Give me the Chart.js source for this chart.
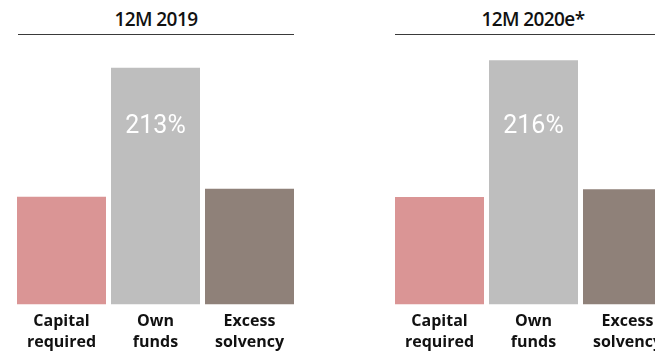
<!DOCTYPE html>
<html>
<head>
<meta charset="utf-8">
<script src="https://cdn.jsdelivr.net/npm/chart.js@4/dist/chart.umd.min.js"></script>
<style>
  html, body { margin: 0; padding: 0; background: #fff; overflow: hidden; }
  body { width: 655px; height: 352px; position: relative; }
  .title {
    position: absolute; top: 6px; width: 276px; height: 28px;
    border-bottom: 1px solid #3a3a3a;
    font-family: "Open Sans", sans-serif; font-weight: 600; font-size: 19px;
    letter-spacing: -0.6px; color: #111; text-align: center; line-height: 26px;
  }
  canvas { position: absolute; top: 40px; }
</style>
</head>
<body>
<div class="title" style="left:18px">12M 2019</div>
<div class="title" style="left:395px">12M 2020e*</div>
<canvas id="c2019" width="330" height="320" style="left:0"></canvas>
<canvas id="c2020" width="360" height="320" style="left:330px"></canvas>
<script>
// Solvency position: capital required vs. own funds and the excess between them
const categories = [["Capital", "required"], ["Own", "funds"], ["Excess", "solvency"]];
const values2019 = [97, 213, 104];
const values2020 = [95, 216, 102];
const ratioLabels = ["213%", "216%"];
const barColors = ["#da9595", "#bebebe", "#8f8179"];

// Writes the solvency ratio inside the "Own funds" bar
const ratioLabelPlugin = {
  id: "ratioLabel",
  afterDatasetsDraw(chart, args, opts) {
    const bar = chart.getDatasetMeta(0).data[1];
    const ctx = chart.ctx;
    ctx.save();
    ctx.fillStyle = "#ffffff";
    ctx.font = "400 25px Roboto, sans-serif";
    ctx.textAlign = "center";
    ctx.textBaseline = "middle";
    ctx.fillText(opts.text, bar.x, chart.chartArea.top + 87);
    ctx.restore();
  }
};

function makeChart(id, values, ratio, yMax, padLeft, padRight) {
  return new Chart(document.getElementById(id), {
    type: "bar",
    data: {
      labels: categories,
      datasets: [{
        data: values,
        backgroundColor: barColors,
        borderWidth: 0,
        barPercentage: 89 / 94,
        categoryPercentage: 1
      }]
    },
    options: {
      responsive: false,
      animation: false,
      devicePixelRatio: 1,
      layout: { padding: { left: padLeft, right: padRight, top: 0, bottom: 0 } },
      plugins: {
        legend: { display: false },
        tooltip: { enabled: false },
        ratioLabel: { text: ratio }
      },
      scales: {
        x: {
          grid: { display: false, drawTicks: false },
          border: { display: false },
          ticks: {
            color: "#111111",
            padding: 7,
            font: { family: "'Open Sans', sans-serif", size: 16, weight: "700", lineHeight: 1.3 }
          }
        },
        y: { display: false, min: 0, max: yMax }
      }
    },
    plugins: [ratioLabelPlugin]
  });
}

makeChart("c2019", values2019, ratioLabels[0], 238, 14.5, 33.5);
makeChart("c2020", values2020, ratioLabels[1], 234, 62.5, 15.5);
</script>
</body>
</html>
